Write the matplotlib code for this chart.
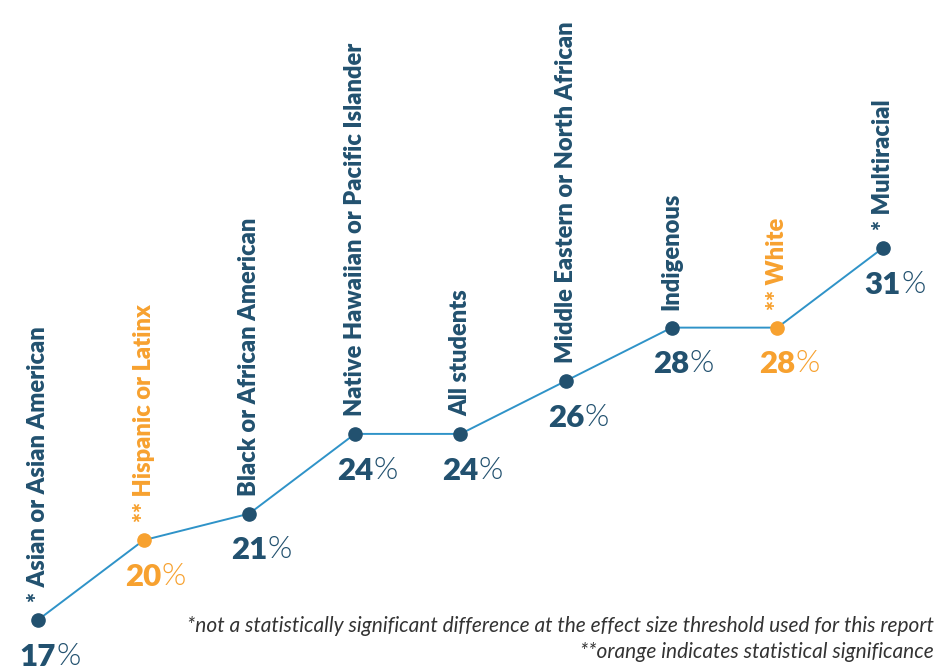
import matplotlib
matplotlib.use('Agg')
import matplotlib.pyplot as plt

# chart data
groups = ['* Asian or Asian American', '** Hispanic or Latinx', 'Black or African American',
          'Native Hawaiian or Pacific Islander', 'All students', 'Middle Eastern or North African',
          'Indigenous', '** White', '* Multiracial']
values = [17, 20, 21, 24, 24, 26, 28, 28, 31]
significant = [False, True, False, False, False, False, False, True, False]
notes = ['*not a statistically significant difference at the effect size threshold used for this report',
         '**orange indicates statistical significance']

navy = '#22516f'
orange = '#f7a12f'
line_blue = '#2f93c8'

plt.rcParams['font.family'] = ['Lato', 'DejaVu Sans']

fig = plt.figure(figsize=(9.4, 6.68), dpi=100)
ax = fig.add_axes([0, 0, 1, 1])
ax.set_xlim(-0.36, 8.54)
ax.set_ylim(15.19, 40.33)
ax.axis('off')

x = list(range(len(values)))
ax.plot(x, values, color=line_blue, linewidth=1.4, zorder=1)

for i, (name, v, sig) in enumerate(zip(groups, values, significant)):
    c = orange if sig else navy
    ax.plot(i, v, 'o', color=c, markersize=9.5, zorder=2)
    # group name, vertical above the point
    ax.annotate(name, xy=(i, v), xytext=(0, 13), textcoords='offset points',
                rotation=90, ha='center', va='bottom', fontsize=17,
                fontweight='heavy', color=c)
    # value below the point, number centered and % appended
    num = ax.annotate(str(v), xy=(i, v), xytext=(0, -33), textcoords='offset points',
                      ha='center', va='baseline', fontsize=22.5, fontweight='heavy', color=c)
    ax.annotate('%', xy=(1, 0), xycoords=num, xytext=(0, 0), textcoords='offset points',
                ha='left', va='bottom', fontsize=22.5, fontweight=300, color=c)

fig.text(0.993, 0.054, notes[0], ha='right', va='baseline', fontsize=15,
         style='italic', color='#333333')
fig.text(0.993, 0.015, notes[1], ha='right', va='baseline', fontsize=15,
         style='italic', color='#333333')

plt.savefig('out.png', dpi=100)
